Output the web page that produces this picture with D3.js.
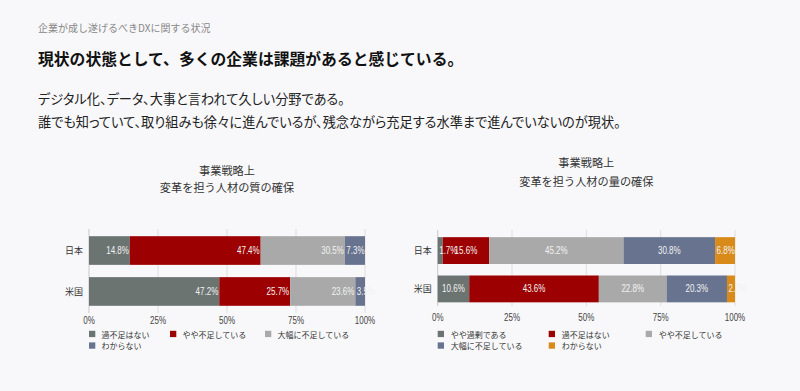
<!DOCTYPE html>
<html><head><meta charset="utf-8">
<script src="https://cdn.jsdelivr.net/npm/d3@7"></script>
<style>
html,body{margin:0;padding:0;background:#f8f8fa;}
svg{display:block;}
text{font-family:"Noto Sans CJK JP","Noto Sans",sans-serif;}
.num{font-family:"Liberation Sans","Noto Sans CJK JP",sans-serif;}
</style></head>
<body>
<script>
// ---------- data ----------
const categories = ["日本", "米国"];
const qualitySeries = ["過不足はない", "やや不足している", "大幅に不足している", "わからない"];
const qualityValues = [
  [14.8, 47.2],
  [47.4, 25.7],
  [30.5, 23.6],
  [7.3, 3.5]
];
const quantitySeries = ["やや過剰である", "過不足はない", "やや不足している", "大幅に不足している", "わからない"];
const quantityValues = [
  [1.7, 10.6],
  [15.6, 43.6],
  [45.2, 22.8],
  [30.8, 20.3],
  [6.8, 2.7]
];
const tickValues = [0, 25, 50, 75, 100];
const tickLabels = ["0%", "25%", "50%", "75%", "100%"];
const colors = ["#6c7471", "#9c0000", "#a9a9a9", "#67738f", "#d88b19"];

const W = 800, H = 391;
const svg = d3.select("body").append("svg").attr("width", W).attr("height", H);
svg.append("rect").attr("width", W).attr("height", H).attr("fill", "#f8f8fa");

// ---------- header texts ----------
svg.append("text").attr("x", 38).attr("y", 27).attr("dominant-baseline", "central")
  .attr("font-size", 10).attr("fill", "#888").text("企業が成し遂げるべきDXに関する状況");
svg.append("text").attr("x", 38).attr("y", 58).attr("dominant-baseline", "central")
  .attr("font-size", 15.8).attr("font-weight", "bold").attr("fill", "#111")
  .text("現状の状態として、多くの企業は課題があると感じている。");
svg.append("text").attr("x", 38).attr("y", 98).attr("dominant-baseline", "central")
  .attr("font-size", 13.2).attr("fill", "#222").style("font-feature-settings", "'palt'")
  .text("デジタル化、データ、大事と言われて久しい分野である。");
svg.append("text").attr("x", 38).attr("y", 121).attr("dominant-baseline", "central")
  .attr("font-size", 13.2).attr("fill", "#222").style("font-feature-settings", "'palt'")
  .text("誰でも知っていて、取り組みも徐々に進んでいるが、残念ながら充足する水準まで進んでいないのが現状。");

const SX = 0.8; // horizontal squeeze of the numeric font

function numText(g, x, y, str, anchor, size, fill) {
  return g.append("text").attr("class", "num")
    .attr("transform", `translate(${x},${y}) scale(${SX},1)`)
    .attr("text-anchor", anchor).attr("dominant-baseline", "central")
    .attr("font-size", size).attr("fill", fill).text(str);
}

function drawChart(opt) {
  const g = svg.append("g");
  const x = d3.scaleLinear().domain([0, 100]).range([opt.x0, opt.x1]);
  const y = d3.scaleBand().domain(categories).range(opt.bandRange).paddingInner(0.3).paddingOuter(0.2);

  // titles
  const cx = (opt.x0 + opt.x1) / 2;
  opt.title.forEach((t, i) => {
    g.append("text").attr("x", cx).attr("y", opt.titleY[i]).attr("text-anchor", "middle")
      .attr("dominant-baseline", "central").attr("font-size", 11.2).attr("fill", "#333").text(t);
  });

  // grid
  g.selectAll(".grid").data(tickValues).join("line")
    .attr("x1", d => x(d)).attr("x2", d => x(d))
    .attr("y1", opt.gridY[0]).attr("y2", opt.gridY[1])
    .attr("stroke", d => d === 0 ? "#c8c8c8" : "#dedede").attr("stroke-width", 1);

  // tick labels
  tickValues.forEach((d, i) => numText(g, x(d), opt.tickY, tickLabels[i], "middle", 10, "#444"));

  // category labels
  categories.forEach(c => {
    g.append("text").attr("x", opt.x0 - 6).attr("y", y(c) + y.bandwidth() / 2)
      .attr("text-anchor", "end").attr("dominant-baseline", "central")
      .attr("font-size", 9).attr("fill", "#333").text(c);
  });

  // stacked bars
  const stacks = categories.map(() => 0);
  const labels = [];
  opt.values.forEach((vals, si) => {
    vals.forEach((v, ci) => {
      const c = categories[ci];
      const s = stacks[ci], e = s + v;
      stacks[ci] = e;
      g.append("rect").attr("x", x(s)).attr("y", y(c))
        .attr("width", Math.max(0, x(Math.min(e, 100)) - x(s))).attr("height", y.bandwidth())
        .attr("fill", colors[si]);
      labels.push({ s, e: Math.min(e, 100), v, c });
    });
  });
  labels.forEach(l => {
    const str = l.v.toFixed(1) + "%";
    const yy = y(l.c) + y.bandwidth() / 2;
    const t = numText(g, 0, yy, str, "start", 10, "#f2f2f2");
    const w = t.node().getComputedTextLength() * SX;
    const segW = x(l.e) - x(l.s);
    let px, anchor;
    if (w + 2 > segW) { px = x(l.s) + 1.5; anchor = "start"; }
    else if (opt.labelPos === "end") { px = x(l.e) - 1; anchor = "end"; }
    else { px = (x(l.s) + x(l.e)) / 2; anchor = "middle"; }
    t.attr("text-anchor", anchor).attr("transform", `translate(${px},${yy}) scale(${SX},1)`);
  });

  // legend
  opt.series.forEach((name, i) => {
    const col = i % 3, row = Math.floor(i / 3);
    const lx = opt.x0 + opt.legendCols[col];
    const ly = opt.legendY + row * 11.6;
    g.append("rect").attr("x", lx).attr("y", ly - 3.2).attr("width", 6.3).attr("height", 6.3).attr("fill", colors[i]);
    g.append("text").attr("x", lx + opt.legendTextGap).attr("y", ly).attr("dominant-baseline", "central")
      .attr("font-size", 8).attr("fill", "#333").text(name);
  });
}

drawChart({
  x0: 89, x1: 365, bandRange: [228, 314], gridY: [229, 313], tickY: 321,
  title: ["事業戦略上", "変革を担う人材の質の確保"], titleY: [170, 187],
  series: qualitySeries, values: qualityValues, labelPos: "end",
  legendCols: [0, 81, 176], legendY: 334, legendTextGap: 12.5
});
drawChart({
  x0: 437.7, x1: 735, bandRange: [229.5, 310], gridY: [230, 306], tickY: 318,
  title: ["事業戦略上", "変革を担う人材の量の確保"], titleY: [162, 181],
  series: quantitySeries, values: quantityValues, labelPos: "middle",
  legendCols: [0, 111, 208], legendY: 334, legendTextGap: 13
});
</script>
</body></html>
